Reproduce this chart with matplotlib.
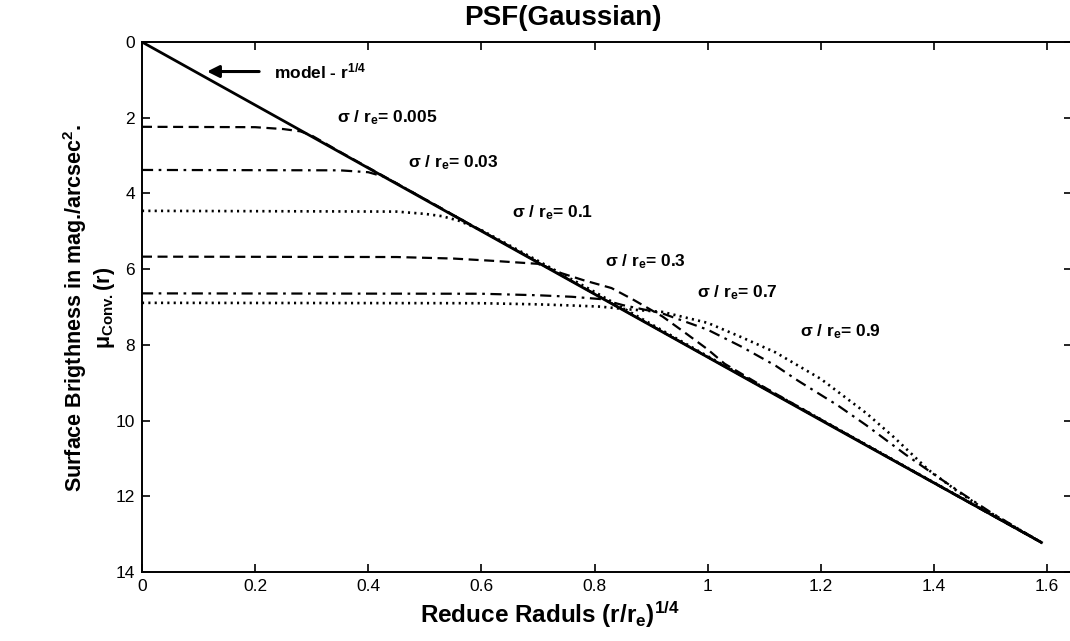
import numpy as np
import matplotlib.pyplot as plt

plt.rcParams['font.family'] = ['Liberation Sans', 'DejaVu Sans']
plt.rcParams['mathtext.fontset'] = 'custom'
plt.rcParams['mathtext.bf'] = 'Liberation Sans:bold'
plt.rcParams['mathtext.rm'] = 'Liberation Sans'
plt.rcParams['mathtext.default'] = 'bf'

# model r^1/4 profile
x_model = [0, 0.4, 0.8, 1.2, 1.59]
y_model = [0, 3.33, 6.66, 9.99, 13.22]

# sigma/re = 0.005 (dashed)
x_s1 = [0, 0.2, 0.25, 0.28, 0.3, 0.35, 0.5, 1.0, 1.59]
y_s1 = [2.24, 2.25, 2.3, 2.36, 2.47, 2.9, 4.15, 8.32, 13.22]

# sigma/re = 0.03 (dash-dot)
x_s2 = [0, 0.35, 0.4, 0.426, 0.45, 0.5, 1.0, 1.59]
y_s2 = [3.38, 3.39, 3.44, 3.55, 3.73, 4.15, 8.32, 13.22]

# sigma/re = 0.1 (dotted)
x_s3 = [0, 0.45, 0.5, 0.53, 0.56, 0.6, 0.7, 0.8, 0.9, 1.0, 1.59]
y_s3 = [4.46, 4.48, 4.54, 4.6, 4.72, 4.97, 5.78, 6.6, 7.45, 8.3, 13.22]

# sigma/re = 0.3 (dashed)
x_s4 = [0, 0.45, 0.55, 0.62, 0.66, 0.70, 0.74, 0.78, 0.83, 0.87, 0.92, 0.96, 1.0, 1.03, 1.1, 1.2, 1.3, 1.4, 1.5, 1.59]
y_s4 = [5.67, 5.68, 5.72, 5.78, 5.82, 5.86, 6.1, 6.29, 6.5, 6.82, 7.25, 7.68, 8.12, 8.5, 9.12, 9.97, 10.81, 11.65, 12.48, 13.22]

# sigma/re = 0.7 (dash-dot)
x_s5 = [0, 0.6, 0.7, 0.76, 0.81, 0.85, 0.92, 1.0, 1.06, 1.12, 1.16, 1.23, 1.28, 1.35, 1.4, 1.45, 1.5, 1.59]
y_s5 = [6.64, 6.65, 6.69, 6.73, 6.79, 6.95, 7.17, 7.6, 8.05, 8.55, 8.95, 9.6, 10.12, 10.9, 11.42, 11.93, 12.42, 13.22]

# sigma/re = 0.9 (dotted)
x_s6 = [0, 0.6, 0.7, 0.76, 0.81, 0.85, 0.92, 1.0, 1.06, 1.12, 1.16, 1.2, 1.24, 1.28, 1.33, 1.39, 1.44, 1.49, 1.59]
y_s6 = [6.89, 6.9, 6.93, 6.96, 6.99, 7.05, 7.13, 7.42, 7.8, 8.2, 8.55, 8.9, 9.35, 9.8, 10.45, 11.3, 11.85, 12.35, 13.22]

sig_labels = ['0.005', '0.03', '0.1', '0.3', '0.7', '0.9']
lab_x = [0.344, 0.47, 0.654, 0.819, 0.981, 1.163]
lab_y = [2.0, 3.2, 4.52, 5.81, 6.63, 7.66]

W, H = 1070, 641
fig = plt.figure(figsize=(W/100, H/100), dpi=100)
ax = fig.add_axes([142/W, 1-572/H, (1072-142)/W, 530/H])

dash = (0, (4.5, 2.5))
dashdot = (0, (5, 2.5, 1.2, 2.5))
dot = (0, (0.8, 1.6))

ax.plot(x_model, y_model, color='black', lw=2.0)
ax.plot(x_s1, y_s1, color='black', lw=1.6, linestyle=dash)
ax.plot(x_s2, y_s2, color='black', lw=1.6, linestyle=dashdot)
ax.plot(x_s3, y_s3, color='black', lw=1.9, linestyle=dot)
ax.plot(x_s4, y_s4, color='black', lw=1.6, linestyle=dash)
ax.plot(x_s5, y_s5, color='black', lw=1.6, linestyle=dashdot)
ax.plot(x_s6, y_s6, color='black', lw=1.9, linestyle=dot)

for s, tx, ty in zip(sig_labels, lab_x, lab_y):
    ax.text(tx, ty, 'σ / r$_e$= ' + s, fontsize=12.5, fontweight='bold', va='center', ha='left')

ax.annotate('', xy=(0.11, 0.78), xytext=(0.212, 0.78),
            arrowprops=dict(arrowstyle='-|>', color='black', lw=2.2, mutation_scale=18))
ax.text(0.233, 0.78, 'model - r$^{1/4}$', fontsize=12.5, fontweight='bold', va='center', ha='left')

ax.set_xlim(0, 1.644)
ax.set_ylim(14, 0)
ax.set_xticks(np.arange(0, 1.61, 0.2))
ax.set_xticklabels(['0', '0.2', '0.4', '0.6', '0.8', '1', '1.2', '1.4', '1.6'])
ax.set_yticks(range(0, 15, 2))
ax.tick_params(direction='in', top=True, right=True, length=6, width=1.2, labelsize=12.5, pad=5)
for sp in ax.spines.values():
    sp.set_linewidth(1.4)

fig.text(563/W, 1-18/H, 'PSF(Gaussian)', fontsize=20, fontweight='bold', ha='center', va='center')
fig.text(550/W, 1-615/H, 'Reduce Raduls (r/r$_e$)$^{1/4}$', fontsize=17.5, fontweight='bold',
         ha='center', va='center')
fig.text(89/W, 0.52, 'Surface Brigthness in mag./arcsec$^{2}$.\n$\\mu_{Conv.}$(r)', fontsize=15.5,
         fontweight='bold', rotation=90, ha='center', va='center', multialignment='center')

fig.savefig('out.png', dpi=100)
